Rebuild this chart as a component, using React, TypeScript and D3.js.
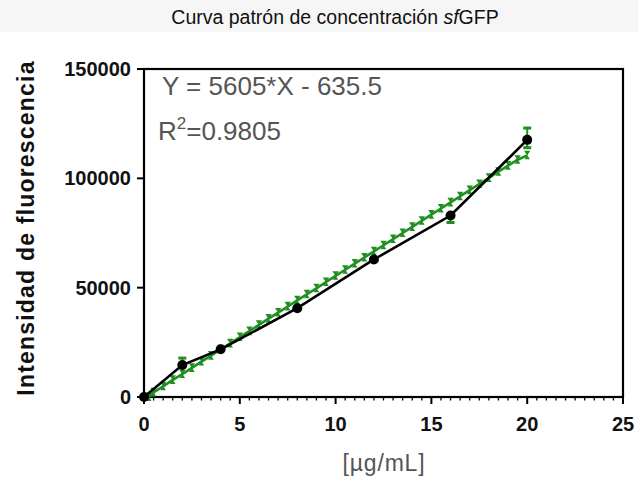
import React from "react";
import * as d3 from "d3";

const measuredX = [0, 2, 4, 8, 12, 16, 20];
const measuredY = [0, 14600, 21800, 40600, 62900, 83000, 117600];
const errX = [2, 16, 20];
const errLow = [14600, 79800, 114000];
const errHigh = [17800, 83000, 123000];

const fitX = [0.25, 0.5, 1, 1.5, 2, 2.5, 3, 3.5, 4, 4.5, 5, 5.5, 6, 6.5, 7, 7.5, 8, 8.5, 9, 9.5, 10, 10.5, 11, 11.5, 12, 12.5, 13, 13.5, 14, 14.5, 15, 15.5, 16, 16.5, 17, 17.5, 18, 18.5, 19, 19.5, 20];
const fitY = [0, 2100, 4900, 7800, 10500, 13300, 16200, 18900, 21800, 24500, 27400, 30100, 33000, 35800, 38600, 41400, 44200, 47000, 49700, 52600, 55400, 58200, 61000, 63800, 66600, 69400, 72200, 75000, 77800, 80600, 83400, 86200, 89000, 91800, 94600, 97400, 100200, 103000, 105800, 108500, 110500];

const xTicks = [0, 5, 10, 15, 20, 25];
const yTicks = [0, 50000, 100000, 150000];

const title = "Curva patrón de concentración ";
const eqText = "Y = 5605*X - 635.5";
const r2Text = "=0.9805";

export default function App() {
  const W = 638, H = 481;
  const left = 144, right = 623, top = 69, bottom = 397;
  const x = d3.scaleLinear().domain([0, 25]).range([left, right]);
  const y = d3.scaleLinear().domain([0, 150000]).range([bottom, top]);
  const minor = d3.range(0, 25.001, 0.5).filter((v) => Math.abs(v % 5) > 1e-6);

  const blackLine = d3.line<number>().x((d, i) => x(measuredX[i])).y((d) => y(d))(measuredY) || "";
  const greenLine = d3.line<number>().x((d, i) => x(fitX[i])).y((d) => y(d))(fitY) || "";
  const bowtie = "M-3.2,-4.6L3.2,-4.6L0,0.2Z M-2.8,4L2.8,4L0,-0.2Z";

  const font = "'Liberation Sans', Arial, sans-serif";
  const green = "#1f8f1f";

  return (
    <svg width={W} height={H} style={{ position: "absolute", left: 0, top: 0, background: "#fff" }} fontFamily={font}>
      <rect x={0} y={0} width={W} height={32} fill="#f6f6f6" />
      <text x={335} y={24} textAnchor="middle" fontSize={19.5} fill="#111">
        {title}
        <tspan fontStyle="italic">sf</tspan>GFP
      </text>

      {/* frame */}
      <rect x={left} y={top} width={right - left} height={bottom - top} fill="none" stroke="#000" strokeWidth={2.2} />

      {/* y ticks */}
      {yTicks.map((t) => (
        <g key={"y" + t}>
          <line x1={left - 7} x2={left} y1={y(t)} y2={y(t)} stroke="#000" strokeWidth={2} />
          <text x={left - 13} y={y(t) + 7} textAnchor="end" fontSize={20} fontWeight="bold" fill="#111">
            {t}
          </text>
        </g>
      ))}

      {/* x ticks */}
      {xTicks.map((t) => (
        <g key={"x" + t}>
          <line x1={x(t)} x2={x(t)} y1={bottom} y2={bottom + 7} stroke="#000" strokeWidth={2} />
          <text x={x(t)} y={bottom + 34} textAnchor="middle" fontSize={20} fontWeight="bold" fill="#111">
            {t}
          </text>
        </g>
      ))}
      {minor.map((t) => (
        <line key={"m" + t} x1={x(t)} x2={x(t)} y1={bottom} y2={bottom + 3.5} stroke="#000" strokeWidth={1.3} />
      ))}

      {/* axis titles */}
      <text
        transform={`translate(34,228) rotate(-90)`}
        textAnchor="middle"
        fontSize={23}
        fontWeight="bold"
        letterSpacing={1.2}
        fill="#111"
      >
        Intensidad de fluorescencia
      </text>
      <text x={384} y={471} textAnchor="middle" fontSize={23} letterSpacing={0.8} fill="#555">
        [µg/mL]
      </text>

      {/* equation */}
      <text x={162} y={95} fontSize={26} fill="#555">
        {eqText}
      </text>
      <text x={158} y={140} fontSize={26} fill="#555">
        R<tspan fontSize={17} dy={-11}>2</tspan>
        <tspan dy={11}>{r2Text}</tspan>
      </text>

      {/* green fit series */}
      <path d={greenLine} fill="none" stroke={green} strokeWidth={2.6} />
      {fitX.map((v, i) => (
        <path key={"g" + i} d={bowtie} transform={`translate(${x(v)},${y(fitY[i])})`} fill={green} />
      ))}

      {/* green error bars */}
      {errX.map((v, i) => (
        <g key={"e" + i} stroke={green} strokeWidth={2}>
          <line x1={x(v)} x2={x(v)} y1={y(errLow[i])} y2={y(errHigh[i])} />
          <line x1={x(v) - 4} x2={x(v) + 4} y1={y(errLow[i])} y2={y(errLow[i])} strokeWidth={3} />
          <line x1={x(v) - 4} x2={x(v) + 4} y1={y(errHigh[i])} y2={y(errHigh[i])} strokeWidth={3} />
        </g>
      ))}

      {/* black measured series */}
      <path d={blackLine} fill="none" stroke="#000" strokeWidth={2.6} />
      {measuredX.map((v, i) => (
        <circle key={"b" + i} cx={x(v)} cy={y(measuredY[i])} r={5} fill="#000" />
      ))}
    </svg>
  );
}
